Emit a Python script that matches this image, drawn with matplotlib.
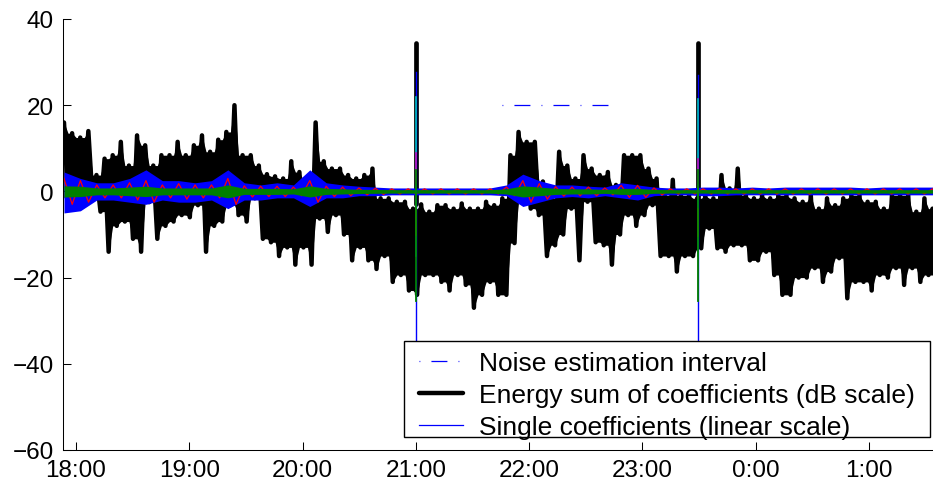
import numpy as np
import matplotlib
matplotlib.use("Agg")
import matplotlib.pyplot as plt
from matplotlib.lines import Line2D
from matplotlib.patches import Rectangle

plt.rcParams["font.family"] = ["Liberation Sans", "DejaVu Sans"]
plt.rcParams["lines.scale_dashes"] = False

# 时间轴: 18:00 之后的小时数
tick_hours = [0, 1, 2, 3, 4, 5, 6, 7]
tick_labels = ["18:00", "19:00", "20:00", "21:00", "22:00", "23:00", "0:00", "1:00"]

# 能量和 (dB) —— 上/下包络
energy_hi = [16, 13.5, 12.5, 14, 3.8, 7.6, 8.4, 11.5, 6, 13, 10.7, 6, 8.4, 8.4, 11.5, 8.4, 10.7, 13, 9.2,
             12, 13.8, 20, 8.4, 8.4, 6, 4, 3.5, 3, 7, 4.5, 2.5, 16, 7, 5.3, 5.3, 3.8, 3,
             3.8, 5.3, -1.6, -1.6, -2.4, -2.4, -4, -3, -4.7, -3.2, -3.2, -4, -2.8, -4, -4, -2.4, -3.2, -1.6,
             8.4, 13.8, 11.5, 11.5, 2.3, -1.6, 9.2, 6, 3, 8.4, 5.3, 3.8, 4.5, 1.5, 8.4, 8.4, 8.4, 5.3,
             3, -0.9, 2.7, -0.9, -0.9, -1.6, -1, -1.6, 3.8, 0.7, 5.3, -0.9, -1.6, -0.9, -1.6, -0.9, -0.9, -1.6,
             -2.4, -0.9, -4, -1.6, -3.2, -1.6, -0.9, -0.9, -2.4, -2.4, -4, -0.9, -0.9, -0.9, -4.7, -1.6, -4]
energy_lo = [-1.5, -1.5, -1.5, -1.5, -4.7, -14, -8, -7, -11, -14, -2.5, -11, -8, -7, -5.5, -6, -3.2, -14, -8,
             -7, -3.2, -5.5, -7, -1.6, -11, -11.8, -15, -13, -17, -13, -17, -6.3, -9.4, -5.5, -10, -16, -13,
             -16, -18, -15, -21, -19.4, -23, -24, -19.4, -19.4, -21, -23, -19.4, -21.7, -27, -24, -21, -24, -24,
             -12, -2.4, -4, -5.5, -15, -12.5, -10, -4, -16, -2.4, -11.8, -12.5, -17, -10, -5.5, -8, -5.5, -3.2,
             -15, -15, -18.6, -15, -15, -13.2, -8.6, -13.2, -14, -12.5, -12.5, -16, -16, -14, -19.4, -24, -24, -20,
             -20, -17.8, -21, -18.6, -15.5, -24.8, -21, -21, -23, -19.4, -20, -17.8, -21.7, -17.8, -21, -19.4, -20]

# 单个系数 (线性) —— 包络
blue_hi = [4.5, 3, 2, 2, 3, 5, 2.5, 2.5, 2, 2.5,
           5, 2, 1.5, 2, 1.5, 5, 2, 1.5, 1.2, 1,
           0.8, 0.8, 0.8, 0.8, 0.8, 0.8, 0.8,
           1.5, 4, 2.5, 1.5, 1.5, 1.2, 1, 2, 1.5, 1,
           0.8, 0.8, 1, 1, 0.8, 1, 0.8, 1, 1, 1,
           1, 1, 0.8, 1, 1, 1, 1]
blue_lo = [-5, -4.5, -2, -2, -2.5, -3, -2, -2.5, -2.5, -2,
           -4, -2, -2, -1.5, -1.5, -3.5, -1.5, -1.5, -1, -1,
           -0.8, -0.8, -0.8, -0.8, -0.8, -0.8, -0.8,
           -1, -3.5, -2.5, -1.5, -1.2, -1.5, -1, -1.5, -2, -1,
           -0.8, -0.8, -1, -1, -0.8, -0.8, -0.8, -0.8, -0.8, -0.8,
           -0.8, -0.8, -0.8, -0.8, -0.8, -0.8, -0.8]
red_amp = [3, 2.5, 1.5, 1.5, 2, 2.5, 1.5, 1.8, 1.5, 1.5,
           3, 1.3, 1.2, 1.2, 1, 2.5, 1.2, 1, 0.8, 0.7,
           0.6, 0.6, 0.6, 0.6, 0.6, 0.6, 0.6,
           1, 2.5, 1.8, 1.1, 1, 1, 0.8, 1.4, 1.4, 0.8,
           0.6, 0.6, 0.6, 0.6, 0.6, 0.6, 0.6, 0.6, 0.6, 0.6,
           0.6, 0.6, 0.6, 0.6, 0.6, 0.6, 0.6]
green_amp = [1.3, 1.2, 0.8, 0.8, 1, 1.2, 0.8, 0.8, 0.8, 0.8,
             1.5, 0.7, 0.7, 0.7, 0.6, 1.3, 0.7, 0.6, 0.5, 0.45,
             0.4, 0.4, 0.4, 0.4, 0.4, 0.4, 0.4,
             0.6, 1.3, 1, 0.7, 0.6, 0.6, 0.45, 0.7, 0.7, 0.45,
             0.4, 0.4, 0.4, 0.45, 0.4, 0.4, 0.4, 0.4, 0.4, 0.4,
             0.4, 0.4, 0.4, 0.4, 0.4, 0.4, 0.4]

# 两个尖峰 (21:00, 23:29)
spike_hours = [3.0, 5.49]
spike_energy = [34.5, 34.5]
spike_blue_top = [27.8, 27.0]
spike_blue_bot = [-38, -38]
spike_cyan_top = [22.0, 21.5]
spike_cyan_bot = [-15, -15]
spike_mag_top = [8.8, 7.6]
spike_yel_bot = [-10, -10.4]
spike_green_top = [5, 5]
spike_green_bot = [-25.5, -25.5]

# 噪声估计区间
noise_start, noise_end, noise_level = 3.76, 4.79, 20

t0, t1 = -0.106, 7.56
BLUE = (0, 0, 1)
GREEN = (0, 0.5, 0)
RED = (1, 0, 0)
CYAN = (0, 0.75, 0.75)
MAGENTA = (0.75, 0, 0.75)
YELLOW = (0.75, 0.75, 0)
W, H = 933, 489


def zigzag(t, hi, lo):
    """峰/谷交替排列"""
    step = t[1] - t[0]
    tz = np.empty(2 * len(t))
    yz = np.empty(2 * len(t))
    tz[0::2] = t
    tz[1::2] = t + step / 2
    yz[0::2] = hi
    yz[1::2] = lo
    return tz, yz


fig = plt.figure(figsize=(W / 100, H / 100), dpi=100)
ax = fig.add_axes([62.7 / W, 38 / H, (W - 62.7) / W, 431 / H])

# 能量和
hi = np.array(energy_hi, dtype=float)
lo = np.array(energy_lo, dtype=float)
t_e = np.linspace(t0, t1, len(hi))
tz, yz = zigzag(t_e, hi, lo)
# 实心部分: 谷处填到相邻较低的峰, 峰处填到相邻较浅的谷
top_core = np.append(np.minimum(hi[:-1], hi[1:]), hi[-1])
bot_core = np.insert(np.maximum(lo[1:], lo[:-1]), 0, lo[0])
_, core_top = zigzag(t_e, hi, top_core)
_, core_bot = zigzag(t_e, bot_core, lo)
ax.fill_between(tz, core_bot, core_top, color="black", lw=0, zorder=1.0)
energy_line, = ax.plot(tz, yz, color="black", lw=3.2, solid_joinstyle="round",
                       solid_capstyle="round", zorder=1.1)
for t, pk in zip(spike_hours, spike_energy):
    ax.plot([t, t], [-3, pk], color="black", lw=3.4, solid_capstyle="round", zorder=1.1)

# 单个系数
t_c = np.linspace(t0, t1, len(blue_hi))
ax.fill_between(t_c, blue_lo, blue_hi, color=BLUE, lw=0, zorder=2.0)
rz_t, rz_y = zigzag(t_c, np.array(red_amp), -np.array(red_amp))
ax.plot(rz_t, rz_y, color=RED, lw=0.9, zorder=2.1)
ax.fill_between(t_c, -np.array(green_amp), green_amp, color=GREEN, lw=0, zorder=2.2)

for i, t in enumerate(spike_hours):
    ax.plot([t, t], [spike_blue_bot[i], spike_blue_top[i]], color=BLUE, lw=1.0, zorder=2.3)
    ax.plot([t, t], [spike_cyan_bot[i], spike_cyan_top[i]], color=CYAN, lw=1.2, zorder=2.4)
    ax.plot([t, t], [2, spike_mag_top[i]], color=MAGENTA, lw=1.2, zorder=2.5)
    ax.plot([t, t], [spike_yel_bot[i], -4], color=YELLOW, lw=1.2, zorder=2.5)
    ax.plot([t, t], [spike_green_bot[i], spike_green_top[i]], color=GREEN, lw=1.3, zorder=2.6)

noise_line, = ax.plot([noise_start, noise_end], [noise_level, noise_level], color=BLUE, lw=0.9,
                      dashes=(0.6, 8, 11.5, 8), zorder=3)

ax.set_xlim(-0.1174, 7.564)
ax.set_ylim(-60, 40)
ax.set_xticks(tick_hours)
ax.set_xticklabels(tick_labels)
ax.set_yticks([-60, -40, -20, 0, 20, 40])
ax.tick_params(direction="in", length=6, width=0.75, labelsize=17.5, pad=6.5, colors="black")
ax.spines["top"].set_visible(False)
ax.spines["right"].set_visible(False)
ax.spines["left"].set_linewidth(0.75)
ax.spines["bottom"].set_linewidth(0.75)

# 图例: 外框单独画
box = Rectangle((403.6 / W, (H - 438.3) / H), (930 - 403.6) / W, 96.6 / H,
                transform=fig.transFigure, facecolor="white", edgecolor="black",
                lw=1.0, zorder=4.5, clip_on=False)
ax.add_patch(box)
coef_proxy = Line2D([], [], color=BLUE, lw=0.9)
leg = ax.legend([noise_line, energy_line, coef_proxy],
                ["Noise estimation interval", "Energy sum of coefficients (dB scale)",
                 "Single coefficients (linear scale)"],
                loc="upper left", bbox_to_anchor=(419 / W, (H - 352) / H),
                bbox_transform=fig.transFigure, fontsize=19, frameon=False,
                borderpad=0, labelspacing=0.31, handlelength=1.67, handletextpad=0.6,
                borderaxespad=0)

fig.savefig("out.png", dpi=100)
